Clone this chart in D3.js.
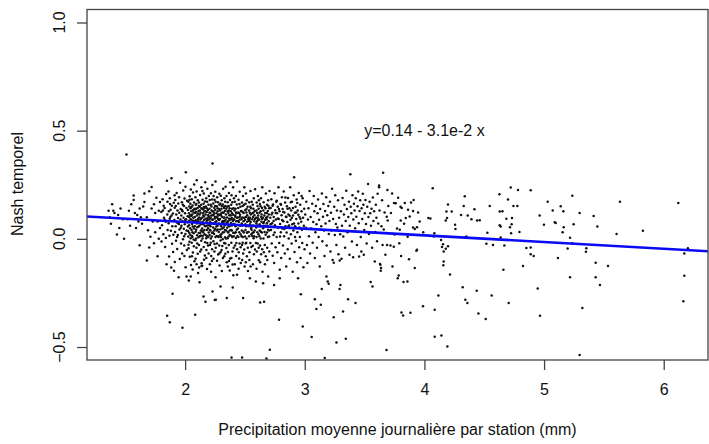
<!DOCTYPE html>
<html lang="fr">
<head>
  <meta charset="UTF-8">
  <title>Nash temporel vs precipitation</title>
  <script src="https://d3js.org/d3.v7.min.js"></script>
  <style>
    body { margin: 0; background: #fff; }
    text { font-family: "Liberation Sans", Arial, sans-serif; fill: #111; }
  </style>
</head>
<body>
  <div id="chart"></div>

  <script>
    // Stations: [precipitation moyenne (mm), Nash temporel]
    const ptsBelow18 = [[1.37,0.10],[1.38,0.07],[1.40,0.13],[1.39,0.16],[1.41,0.12],[1.45,0.05],[1.48,0.09],[1.49,0.00],[1.51,0.39],[1.53,0.13],[1.54,0.06],[1.55,0.16],[1.57,0.18],[1.57,0.20],[1.59,0.05],[1.60,0.11],[1.62,0.14],[1.62,-0.03],[1.63,0.10],[1.65,0.15],[1.66,0.17],[1.68,0.10],[1.68,-0.10],[1.69,0.04],[1.70,0.22],[1.72,0.24],[1.72,0.14],[1.73,0.08],[1.74,0.16],[1.75,0.03],[1.75,0.12],[1.76,0.19],[1.77,0.08],[1.77,-0.08],[1.78,0.13],[1.78,0.00],[1.79,0.05],[1.79,0.17],[1.46,0.14],[1.43,0.02],[1.52,0.09],[1.64,0.07],[1.71,0.01],[1.58,0.12],[1.66,0.21],[1.74,-0.02],[1.61,0.08],[1.44,0.11],[1.36,0.13],[1.70,-0.04]];

    const pts18to20 = [[1.801,0.124],[1.807,0.063],[1.812,0.183],[1.818,0.021],[1.823,0.098],[1.829,0.142],[1.833,-0.038],[1.838,0.079],[1.842,0.207],[1.848,0.268],[1.851,0.113],[1.854,0.041],[1.803,-0.012],[1.821,0.153],[1.845,-0.118],[1.850,-0.356],[1.831,0.088],[1.814,0.131],[1.839,0.004],[1.853,0.171],
      [1.862,0.072],[1.864,0.128],[1.869,0.014],[1.872,0.188],[1.872,-0.385],[1.877,0.101],[1.881,0.037],[1.886,0.280],[1.889,0.153],[1.891,-0.023],[1.895,-0.254],[1.898,0.117],[1.903,0.082],[1.900,-0.061],[1.861,0.219],[1.874,0.161],[1.884,-0.133],[1.893,0.058],[1.905,0.167],[1.866,-0.082],[1.879,0.134],[1.902,0.019],[1.871,0.093],[1.887,0.108],[1.907,-0.148],
      [1.911,0.087],[1.913,0.144],[1.916,0.032],[1.918,0.179],[1.921,0.058],[1.924,-0.009],[1.926,0.112],[1.929,0.212],[1.931,0.076],[1.934,-0.047],[1.936,0.131],[1.939,0.018],[1.941,0.096],[1.943,0.163],[1.946,-0.178],[1.948,0.069],[1.951,0.121],[1.953,0.043],[1.955,-0.093],[1.958,0.259],[1.914,-0.107],[1.922,0.152],[1.933,0.009],[1.944,0.071],[1.949,0.192],[1.961,0.089],[1.963,0.138],[1.966,-0.021],[1.964,0.051],[1.912,0.201],
      [1.968,0.108],[1.971,0.027],[1.973,0.169],[1.975,-0.068],[1.978,0.082],[1.979,0.127],[1.978,-0.411],[1.982,-0.002],[1.984,0.223],[1.987,0.098],[1.989,0.047],[1.991,0.152],[1.993,-0.031],[1.995,0.187],[1.997,0.068],[1.999,0.118],[2.002,0.022],[2.004,-0.131],[2.006,0.308],[2.008,0.091],[2.011,0.143],[2.012,0.038],[2.014,-0.052],[2.016,0.176],[1.969,0.061],[1.981,0.158],[1.992,0.012],[2.001,0.087],[2.012,-0.174],[2.003,0.241],[1.974,0.133],[1.994,-0.079]];

    const pts20to24 = [[2.021,0.104],[2.023,0.057],[2.024,0.133],[2.026,0.011],[2.027,0.171],[2.029,-0.043],[2.031,0.082],[2.032,0.118],[2.034,0.028],[2.035,0.149],[2.036,-0.014],[2.038,0.197],[2.039,-0.083],[2.041,0.109],[2.042,0.049],[2.044,0.092],[2.045,0.141],[2.046,0.003],[2.048,0.228],[2.049,-0.121],[2.022,0.077],[2.033,0.063],[2.043,0.019],[2.031,-0.193],[2.037,0.181],[2.047,-0.174],[2.025,0.036],[2.034,0.101],[2.044,0.162],[2.028,-0.027],
      [2.051,0.088],[2.052,0.127],[2.054,0.041],[2.055,-0.018],[2.056,0.183],[2.058,0.069],[2.059,0.113],[2.061,0.008],[2.062,0.154],[2.064,0.057],[2.065,-0.063],[2.066,0.214],[2.068,0.097],[2.069,0.079],[2.071,0.122],[2.072,0.026],[2.073,-0.034],[2.075,0.168],[2.076,0.251],[2.078,-0.104],[2.053,0.106],[2.063,-0.142],[2.074,0.048],[2.057,0.013],[2.067,0.084],[2.077,0.139],[2.084,-0.351],[2.061,0.031],[2.054,0.147],[2.071,-0.003],[2.066,0.132],[2.057,-0.081],
      [2.081,0.101],[2.082,0.058],[2.084,0.137],[2.085,-0.007],[2.086,0.192],[2.088,0.033],[2.089,0.086],[2.091,0.124],[2.092,0.042],[2.094,0.161],[2.095,-0.041],[2.096,0.219],[2.098,0.071],[2.099,0.108],[2.101,0.017],[2.102,0.078],[2.104,0.143],[2.105,-0.069],[2.106,0.178],[2.108,-0.158],[2.083,0.119],[2.093,0.002],[2.103,0.053],[2.087,-0.092],[2.097,0.271],[2.107,0.117],[2.082,0.081],[2.092,0.139],[2.101,-0.022],[2.089,0.157],[2.096,-0.118],[2.106,0.092],
      [2.111,0.083],[2.112,0.129],[2.114,0.027],[2.115,0.168],[2.116,-0.029],[2.118,0.099],[2.119,0.061],[2.121,0.112],[2.122,0.148],[2.124,0.012],[2.125,0.203],[2.126,-0.058],[2.128,0.089],[2.129,0.121],[2.131,0.068],[2.132,0.039],[2.134,0.158],[2.135,-0.009],[2.136,0.238],[2.138,-0.113],[2.113,0.057],[2.123,0.131],[2.133,0.094],[2.117,-0.132],[2.127,0.028],[2.137,0.141],[2.115,0.152],[2.121,-0.201],[2.131,0.016],[2.112,0.007],[2.126,0.076],[2.135,-0.049],[2.154,-0.267],[2.170,-0.291],
      [2.141,0.097],[2.142,0.048],[2.144,0.138],[2.145,0.002],[2.146,0.181],[2.148,0.079],[2.149,0.118],[2.151,0.031],[2.152,0.067],[2.154,0.162],[2.155,-0.038],[2.156,0.209],[2.158,0.103],[2.159,0.088],[2.161,0.126],[2.162,0.021],[2.164,0.059],[2.165,-0.077],[2.166,0.173],[2.168,0.262],[2.143,-0.124],[2.153,0.108],[2.163,0.144],[2.147,0.013],[2.157,0.147],[2.167,-0.016],[2.144,0.036],[2.152,0.136],[2.158,-0.097],[2.145,0.221],[2.161,0.041],[2.137,-0.125],
      [2.171,0.112],[2.172,0.058],[2.174,0.149],[2.175,0.017],[2.176,0.188],[2.178,-0.052],[2.179,0.082],[2.181,0.124],[2.182,0.041],[2.184,0.171],[2.185,-0.019],[2.186,0.231],[2.188,0.098],[2.189,0.087],[2.191,0.133],[2.192,0.049],[2.194,0.008],[2.195,0.157],[2.196,-0.068],[2.198,0.198],[2.173,0.093],[2.183,-0.139],[2.193,0.109],[2.177,-0.088],[2.187,0.062],[2.197,0.029],[2.171,0.128],[2.181,0.141],[2.191,-0.031],[2.176,0.003],[2.186,0.012],[2.196,0.072],
      [2.201,0.102],[2.202,0.063],[2.204,0.139],[2.205,0.018],[2.206,0.179],[2.208,-0.028],[2.209,0.079],[2.211,0.119],[2.212,0.038],[2.214,0.158],[2.215,0.001],[2.216,0.211],[2.218,-0.079],[2.219,0.108],[2.221,0.071],[2.222,0.131],[2.224,0.028],[2.225,-0.048],[2.226,0.182],[2.228,0.249],[2.203,0.091],[2.213,0.098],[2.223,0.011],[2.207,-0.118],[2.217,-0.152],[2.227,0.089],[2.229,0.348],[2.229,-0.243],[2.203,0.121],[2.212,0.058],[2.221,0.149],[2.206,0.041],[2.214,-0.018],[2.224,-0.103],[2.248,-0.283],
      [2.231,0.088],[2.232,0.128],[2.234,0.052],[2.235,0.163],[2.236,-0.011],[2.238,0.198],[2.239,0.113],[2.241,0.069],[2.242,0.022],[2.244,0.142],[2.245,-0.059],[2.246,0.181],[2.248,0.094],[2.249,0.101],[2.251,0.047],[2.252,0.133],[2.254,0.009],[2.255,0.172],[2.256,-0.041],[2.254,-0.177],[2.233,0.109],[2.243,0.038],[2.253,0.078],[2.237,-0.092],[2.254,0.265],[2.257,-0.281],[2.232,0.029],[2.241,0.121],[2.251,0.152],[2.236,0.072],[2.246,-0.024],[2.252,0.218],
      [2.261,0.081],[2.262,0.118],[2.264,0.039],[2.265,0.151],[2.266,-0.021],[2.268,0.192],[2.269,0.098],[2.271,0.061],[2.272,0.128],[2.274,0.012],[2.275,0.169],[2.276,-0.072],[2.278,0.091],[2.279,0.108],[2.281,0.032],[2.282,0.071],[2.284,0.138],[2.285,-0.031],[2.286,0.208],[2.288,-0.123],[2.263,0.102],[2.273,0.043],[2.283,0.087],[2.267,-0.101],[2.296,-0.220],[2.287,0.158],[2.261,0.057],[2.271,0.141],[2.281,0.008],[2.264,0.013],[2.277,0.113],[2.286,-0.068],
      [2.291,0.092],[2.292,0.131],[2.294,0.043],[2.295,0.162],[2.296,-0.008],[2.298,0.199],[2.299,0.109],[2.301,0.058],[2.302,0.021],[2.304,0.139],[2.305,-0.052],[2.306,0.178],[2.308,0.079],[2.309,0.101],[2.311,0.048],[2.312,0.122],[2.314,-0.002],[2.315,0.159],[2.316,-0.088],[2.318,0.232],[2.293,0.068],[2.303,0.118],[2.313,0.029],[2.297,-0.061],[2.307,-0.149],[2.317,0.083],[2.291,0.112],[2.301,0.009],[2.311,-0.033],[2.294,0.018],[2.306,0.152],
      [2.321,0.078],[2.322,0.121],[2.324,0.031],[2.325,0.148],[2.326,-0.019],[2.328,0.188],[2.329,0.099],[2.331,0.062],[2.332,0.129],[2.334,0.007],[2.335,0.171],[2.336,-0.069],[2.338,0.241],[2.339,0.088],[2.341,0.112],[2.342,0.039],[2.344,0.139],[2.345,-0.042],[2.346,0.198],[2.348,-0.108],[2.323,0.098],[2.333,0.041],[2.343,0.071],[2.327,-0.081],[2.348,-0.274],[2.337,0.152],[2.322,0.052],[2.331,0.082],[2.341,0.001],[2.326,0.142],[2.336,-0.022],
      [2.351,0.099],[2.352,0.051],[2.354,0.128],[2.355,0.003],[2.356,0.169],[2.358,-0.061],[2.359,0.081],[2.361,0.119],[2.362,0.029],[2.364,0.152],[2.365,-0.028],[2.366,0.212],[2.368,0.093],[2.369,0.109],[2.371,0.058],[2.372,0.141],[2.373,0.018],[2.375,0.179],[2.373,-0.146],[2.376,-0.091],[2.353,0.077],[2.363,0.011],[2.373,0.088],[2.357,-0.128],[2.378,0.262],[2.367,-0.102],[2.352,0.148],[2.362,0.062],[2.372,0.039],[2.356,0.032],[2.366,0.131],[2.388,-0.548],
      [2.381,0.091],[2.382,0.128],[2.384,0.041],[2.385,0.158],[2.386,-0.018],[2.388,0.202],[2.389,0.098],[2.391,0.062],[2.392,0.118],[2.394,0.009],[2.395,0.169],[2.396,-0.058],[2.398,0.082],[2.398,-0.225],[2.401,0.111],[2.402,0.028],[2.404,0.069],[2.405,0.141],[2.406,-0.041],[2.408,0.188],[2.383,0.073],[2.393,0.139],[2.403,0.092],[2.387,-0.088],[2.397,-0.119],[2.407,0.012],[2.381,0.109],[2.391,0.038],[2.401,0.238],[2.386,0.014],[2.403,-0.168]];

    const pts24to27 = [[2.411,0.088],[2.413,0.131],[2.414,0.027],[2.416,0.171],[2.417,-0.031],[2.419,0.102],[2.421,0.058],[2.422,0.139],[2.424,0.004],[2.425,0.198],[2.427,-0.079],[2.428,0.081],[2.429,0.118],[2.431,0.042],[2.432,0.159],[2.434,-0.048],[2.434,0.265],[2.434,-0.166],[2.412,0.069],[2.423,0.031],[2.433,0.098],[2.415,-0.118],[2.426,0.122],[2.436,0.013],[2.418,0.108],[2.428,-0.019],
      [2.441,0.099],[2.442,0.048],[2.444,0.142],[2.445,0.009],[2.446,0.181],[2.448,-0.062],[2.449,0.078],[2.451,0.119],[2.452,0.031],[2.454,0.161],[2.455,-0.021],[2.456,0.218],[2.458,0.089],[2.459,0.111],[2.461,0.061],[2.462,0.148],[2.464,-0.039],[2.465,-0.112],[2.443,0.082],[2.453,0.063],[2.463,0.021],[2.447,-0.138],[2.457,0.102],[2.467,0.129],[2.451,-0.091],[2.444,0.122],[2.476,-0.548],
      [2.471,0.091],[2.472,0.128],[2.474,0.039],[2.475,0.168],[2.476,-0.028],[2.478,0.099],[2.479,0.062],[2.481,0.152],[2.482,0.008],[2.484,0.198],[2.485,-0.068],[2.485,-0.274],[2.488,0.081],[2.489,0.119],[2.491,0.029],[2.492,0.158],[2.494,-0.049],[2.495,0.239],[2.473,0.071],[2.483,0.123],[2.493,0.098],[2.477,-0.098],[2.487,0.033],[2.497,-0.128],[2.471,0.012],[2.481,-0.018],
      [2.501,0.088],[2.502,0.132],[2.504,0.041],[2.505,0.162],[2.506,-0.021],[2.508,0.209],[2.509,0.101],[2.511,0.058],[2.512,0.122],[2.514,0.002],[2.515,0.178],[2.516,-0.081],[2.518,0.079],[2.519,0.109],[2.521,0.031],[2.522,0.148],[2.524,-0.041],[2.525,-0.149],[2.503,0.068],[2.513,0.138],[2.523,0.061],[2.507,-0.108],[2.517,0.028],[2.527,0.092],[2.501,0.011],[2.511,-0.018],
      [2.531,0.099],[2.532,0.058],[2.534,0.131],[2.535,0.012],[2.536,0.169],[2.538,-0.062],[2.539,0.088],[2.541,0.121],[2.541,-0.182],[2.544,0.148],[2.545,-0.019],[2.546,0.221],[2.548,0.078],[2.549,0.112],[2.551,0.049],[2.552,0.141],[2.554,-0.038],[2.555,0.042],[2.533,0.083],[2.543,0.068],[2.553,0.021],[2.537,-0.098],[2.547,-0.128],[2.557,0.171],[2.531,0.032],[2.542,0.098],
      [2.561,0.091],[2.562,0.118],[2.564,0.028],[2.565,0.158],[2.566,-0.032],[2.568,0.101],[2.569,0.062],[2.571,0.139],[2.572,0.003],[2.574,0.188],[2.575,-0.071],[2.578,0.081],[2.579,0.109],[2.581,0.039],[2.582,0.129],[2.584,-0.049],[2.585,0.229],[2.563,0.058],[2.573,0.031],[2.583,0.092],[2.567,-0.118],[2.591,-0.197],[2.577,0.012],[2.561,0.013],[2.571,0.122],
      [2.593,0.098],[2.594,0.052],[2.596,0.131],[2.597,0.009],[2.598,0.168],[2.599,-0.058],[2.601,0.081],[2.602,0.119],[2.604,0.031],[2.605,0.152],[2.606,-0.022],[2.608,0.198],[2.609,0.088],[2.611,0.108],[2.612,0.059],[2.614,0.139],[2.615,-0.041],[2.616,-0.099],[2.595,0.072],[2.603,0.062],[2.613,0.021],[2.597,-0.138],[2.607,0.098],[2.617,0.178],[2.592,-0.019],
      [2.621,0.089],[2.622,0.121],[2.624,0.038],[2.625,0.161],[2.626,-0.031],[2.627,-0.294],[2.629,0.058],[2.631,0.128],[2.632,0.002],[2.634,0.188],[2.635,-0.071],[2.636,0.101],[2.638,0.079],[2.639,0.112],[2.641,0.029],[2.642,0.142],[2.644,-0.048],[2.645,0.238],[2.623,0.068],[2.633,0.033],[2.643,0.092],[2.627,-0.108],[2.647,-0.152],[2.621,0.012],[2.631,0.151],
      [2.651,0.098],[2.652,0.049],[2.654,0.131],[2.655,0.001],[2.656,0.169],[2.658,-0.062],[2.659,0.078],[2.660,-0.291],[2.662,0.108],[2.664,0.032],[2.665,0.148],[2.666,-0.029],[2.668,0.088],[2.669,0.119],[2.671,0.061],[2.672,0.141],[2.674,-0.081],[2.675,0.209],[2.653,0.072],[2.663,0.058],[2.673,0.019],[2.652,-0.205],[2.667,-0.118],[2.677,0.098],[2.680,-0.553],
      [2.681,0.091],[2.682,0.119],[2.684,0.029],[2.685,0.158],[2.686,-0.041],[2.688,0.102],[2.689,0.061],[2.691,0.129],[2.692,0.009],[2.694,0.178],[2.694,-0.174],[2.698,0.081],[2.699,0.112],[2.701,0.039],[2.702,0.141],[2.704,-0.058],[2.708,-0.513],[2.683,0.072],[2.693,0.042],[2.703,0.011],[2.687,-0.098],[2.697,0.152],[2.705,0.221]];

    const pts27to30 = [[2.712,0.098],[2.715,0.142],[2.718,0.041],[2.721,0.183],[2.724,-0.021],[2.727,0.072],[2.729,0.121],[2.732,-0.078],[2.735,0.159],[2.738,0.018],[2.741,0.101],[2.744,-0.112],[2.744,-0.213],[2.747,0.211],[2.750,0.063],[2.753,0.132],[2.756,-0.039],[2.759,0.089],[2.762,0.172],[2.765,0.008],[2.768,0.118],[2.771,-0.062],[2.774,0.148],[2.777,0.051],[2.780,0.238],[2.783,0.092],[2.785,-0.374],[2.786,-0.019],[2.789,0.128],[2.791,-0.182],[2.791,-0.143],[2.794,0.069],[2.797,0.161],[2.800,0.031],[2.803,-0.088],[2.806,0.109],[2.809,0.192],[2.812,0.048],[2.815,0.138],[2.818,-0.031],[2.821,0.081],[2.824,0.219],[2.827,0.012],[2.830,0.122],[2.833,-0.068],[2.836,0.168],[2.839,0.058],[2.842,0.102],[2.845,-0.128],[2.848,0.029],[2.851,0.151],[2.854,0.078],[2.857,-0.048],[2.860,0.189],[2.863,0.112],[2.866,0.002],[2.869,0.062],[2.872,0.141],[2.875,-0.092],[2.878,0.238],[2.881,0.088],[2.884,0.021],[2.887,0.131],[2.890,-0.022],[2.893,0.172],[2.896,0.068],[2.899,-0.152],[2.902,0.108],[2.905,0.039],[2.908,0.201],[2.911,0.285],[2.914,-0.061],[2.917,0.121],[2.920,0.058],[2.923,0.148],[2.926,-0.009],[2.929,0.092],[2.932,0.182],[2.935,-0.108],[2.938,0.031],[2.941,0.131],[2.944,-0.182],[2.947,0.071],[2.950,0.212],[2.953,-0.039],[2.956,0.101],[2.959,0.009],[2.962,0.158],[2.965,-0.089],[2.967,-0.256],[2.970,0.079],[2.973,0.128],[2.976,0.042],[2.979,-0.019],[2.982,0.188],[2.983,-0.405],[2.986,0.098],[2.989,-0.131],[2.992,0.061],[2.995,0.139],[2.998,-0.048],
      [2.714,0.067],[2.723,0.112],[2.731,0.153],[2.739,0.083],[2.748,0.029],[2.757,0.119],[2.766,0.176],[2.775,0.094],[2.784,0.138],[2.793,0.011],[2.802,0.158],[2.811,0.087],[2.82,0.124],[2.829,0.046],[2.838,0.191],[2.847,0.101],[2.856,0.139],[2.865,0.059],[2.874,0.107],[2.883,0.169],[2.892,0.098],[2.901,0.142],[2.91,0.071],[2.919,0.009],[2.928,0.122],[2.937,0.166],[2.946,0.111],[2.955,0.052],[2.964,0.093],[2.973,0.198]];

    const pts30to33 = [[3.004,0.112],[3.009,0.051],[3.013,0.172],[3.018,-0.029],[3.022,-0.112],[3.026,0.089],[3.031,0.141],[3.035,0.012],[3.040,0.221],[3.044,-0.068],[3.049,0.101],[3.053,0.048],[3.058,-0.454],[3.062,0.162],[3.066,-0.018],[3.071,0.078],[3.075,0.198],[3.080,0.128],[3.084,-0.089],[3.084,-0.279],[3.089,0.031],[3.093,0.152],[3.097,-0.324],[3.098,0.068],[3.102,-0.041],[3.107,0.118],[3.111,0.182],[3.116,0.009],[3.120,0.088],[3.125,-0.128],[3.129,0.138],[3.134,-0.305],[3.138,0.058],[3.142,-0.232],[3.143,0.209],[3.147,-0.011],[3.152,0.102],[3.156,0.161],[3.161,0.039],[3.165,-0.079],[3.167,-0.551],[3.170,0.129],[3.174,0.071],[3.179,0.192],[3.181,-0.174],[3.183,-0.031],[3.188,0.109],[3.192,-0.197],[3.197,0.152],[3.200,-0.208],[3.201,0.022],[3.206,0.082],[3.210,0.171],[3.215,-0.058],[3.219,0.121],[3.224,0.038],[3.228,0.231],[3.233,-0.098],[3.237,0.092],[3.242,-0.110],[3.242,-0.362],[3.246,0.148],[3.251,0.018],[3.255,0.201],[3.260,0.069],[3.264,-0.028],[3.265,-0.479],[3.269,0.131],[3.273,0.052],[3.278,0.178],[3.282,-0.071],[3.287,0.098],[3.291,-0.232],[3.292,-0.100],[3.296,0.021],[3.298,-0.213]];

    const pts33to37 = [[3.302,0.128],[3.307,-0.092],[3.311,0.061],[3.316,0.189],[3.320,-0.336],[3.322,0.011],[3.327,0.112],[3.332,0.158],[3.337,-0.041],[3.342,0.082],[3.343,-0.462],[3.347,0.222],[3.352,0.138],[3.357,0.031],[3.362,-0.279],[3.364,0.101],[3.369,0.172],[3.374,-0.074],[3.376,0.061],[3.381,0.298],[3.384,0.148],[3.389,0.118],[3.394,-0.012],[3.399,0.201],[3.404,-0.085],[3.406,0.089],[3.411,0.162],[3.416,0.131],[3.421,0.049],[3.424,-0.297],[3.426,0.188],[3.431,0.102],[3.436,-0.029],[3.441,0.151],[3.446,0.219],[3.451,0.072],[3.454,-0.082],[3.458,0.129],[3.463,0.178],[3.468,0.009],[3.473,-0.059],[3.475,0.141],[3.480,0.092],[3.485,0.208],[3.490,0.158],[3.493,-0.074],[3.497,0.041],[3.502,0.118],[3.507,0.179],[3.512,0.069],[3.517,-0.021],[3.522,0.148],[3.529,0.253],[3.532,0.101],[3.537,0.022],[3.542,0.171],[3.547,0.118],[3.551,-0.200],[3.553,0.061],[3.558,0.139],[3.563,-0.041],[3.566,-0.220],[3.569,0.191],[3.574,0.082],[3.579,0.128],[3.585,-0.105],[3.589,0.032],[3.594,0.158],[3.599,0.098],[3.604,-0.011],[3.609,0.208],[3.614,0.071],[3.621,0.246],[3.621,0.239],[3.625,0.131],[3.629,-0.116],[3.632,-0.120],[3.635,-0.148],[3.637,-0.135],[3.641,0.058],[3.646,0.178],[3.650,-0.028],[3.655,0.306],[3.660,0.043],[3.667,0.122],[3.674,-0.074],[3.683,-0.514],[3.685,0.102],[3.688,-0.028],[3.691,0.226],[3.693,0.085],[3.698,0.152]];

    const pts37to46 = [[3.716,-0.031],[3.72,0.12],[3.73,0.21],[3.733,-0.128],[3.744,-0.036],[3.746,0.166],[3.75,0.02],[3.760,0.165],[3.771,0.048],[3.777,-0.182],[3.78,0.19],[3.785,-0.170],[3.79,-0.02],[3.794,0.042],[3.800,0.148],[3.802,0.085],[3.805,-0.079],[3.808,-0.341],[3.810,0.142],[3.822,-0.354],[3.825,-0.200],[3.83,0.07],[3.836,0.166],[3.844,0.096],[3.858,-0.197],[3.86,0.01],[3.863,0.134],[3.871,-0.094],[3.877,0.103],[3.883,-0.342],[3.888,0.168],[3.905,0.129],[3.905,0.052],[3.91,0.18],[3.919,0.045],[3.919,-0.135],[3.933,-0.055],[3.938,0.054],[3.938,-0.051],[3.947,0.122],[3.96,0.08],[3.988,-0.311],[3.99,0.03],[4.033,0.096],[4.050,0.094],[4.069,0.234],[4.078,0.011],[4.083,0.026],[4.086,-0.328],[4.086,-0.453],[4.117,-0.262],[4.139,-0.005],[4.142,-0.447],[4.147,-0.038],[4.156,-0.025],[4.158,-0.122],[4.161,-0.105],[4.161,-0.059],[4.178,0.085],[4.178,-0.046],[4.184,0.126],[4.189,0.096],[4.192,-0.498],[4.197,0.159],[4.197,-0.034],[4.214,-0.165],[4.228,0.126],[4.256,0.065],[4.259,0.046],[4.306,0.110],[4.320,-0.224],[4.328,0.152],[4.337,0.197],[4.337,0.006],[4.342,-0.282],[4.351,0.011],[4.359,-0.297],[4.362,0.108],[4.393,0.091],[4.418,0.137],[4.437,-0.240],[4.440,0.085],[4.451,-0.345],[4.462,0.086],[4.512,-0.371],[4.518,-0.023],[4.526,0.028],[4.546,0.152],[4.562,-0.262],[4.573,-0.028]];

    const pts46to62 = [[4.627,0.206],[4.629,0.126],[4.629,0.063],[4.637,0.057],[4.637,0.006],[4.652,0.128],[4.660,-0.143],[4.668,-0.031],[4.685,0.093],[4.699,0.182],[4.704,-0.296],[4.715,0.054],[4.721,0.237],[4.724,0.026],[4.729,0.068],[4.732,0.096],[4.744,0.152],[4.777,0.152],[4.782,0.226],[4.794,0.032],[4.824,-0.125],[4.852,-0.042],[4.888,0.225],[4.888,-0.040],[4.888,-0.071],[4.913,-0.079],[4.947,-0.230],[4.963,0.108],[4.966,-0.356],[4.999,0.065],[5.030,0.172],[5.072,0.131],[5.089,0.077],[5.097,0.073],[5.116,-0.088],[5.139,0.151],[5.155,0.031],[5.161,0.128],[5.164,0.054],[5.197,-0.045],[5.217,0.005],[5.217,-0.177],[5.236,0.199],[5.236,-0.020],[5.247,0.068],[5.297,0.120],[5.297,-0.537],[5.320,-0.320],[5.350,-0.060],[5.353,-0.043],[5.414,0.106],[5.431,-0.111],[5.431,-0.177],[5.445,0.057],[5.467,-0.213],[5.534,-0.125],[5.606,0.022],[5.634,0.171],[5.826,0.037],[6.122,0.166],[6.164,-0.288],[6.172,-0.068],[6.172,-0.171],[6.202,-0.043]];

    // linear fit shown on the plot
    const fitIntercept = 0.14;
    const fitSlope = -0.031;
    const fitLabel = "y=0.14 - 3.1e-2 x";

    const xTicks = [2, 3, 4, 5, 6];
    const yTicks = [-0.5, 0.0, 0.5, 1.0];
    const xTitle = "Precipitation moyenne journalière par station (mm)";
    const yTitle = "Nash temporel";

    const allPoints = [].concat(ptsBelow18, pts18to20, pts20to24, pts24to27,
      pts27to30, pts30to33, pts33to37, pts37to46, pts46to62);

    // plot region (R style, 4% padding around the data)
    const W = 709, H = 444;
    const plotLeft = 87, plotRight = 708, plotTop = 9.5, plotBottom = 360;
    const fontSize = "16px";

    const svg = d3.select("#chart").append("svg")
      .attr("width", W)
      .attr("height", H);

    const x = d3.scaleLinear().domain([1.18, 6.37]).range([plotLeft, plotRight]);
    const y = d3.scaleLinear().domain([-0.56, 1.06]).range([plotBottom, plotTop]);

    svg.append("clipPath").attr("id", "plot-clip")
      .append("rect")
      .attr("x", plotLeft).attr("y", plotTop)
      .attr("width", plotRight - plotLeft).attr("height", plotBottom - plotTop);

    // points
    svg.append("g")
      .attr("clip-path", "url(#plot-clip)")
      .selectAll("circle")
      .data(allPoints)
      .enter().append("circle")
        .attr("cx", d => x(d[0]))
        .attr("cy", d => y(d[1]))
        .attr("r", 1.25)
        .attr("fill", "#111");

    // regression line
    const xd = x.domain();
    svg.append("line")
      .attr("clip-path", "url(#plot-clip)")
      .attr("x1", x(xd[0])).attr("y1", y(fitIntercept + fitSlope * xd[0]))
      .attr("x2", x(xd[1])).attr("y2", y(fitIntercept + fitSlope * xd[1]))
      .attr("stroke", "#0a0af5")
      .attr("stroke-width", 2.6);

    // box
    svg.append("rect")
      .attr("x", plotLeft).attr("y", plotTop)
      .attr("width", plotRight - plotLeft).attr("height", plotBottom - plotTop)
      .attr("fill", "none")
      .attr("stroke", "#444")
      .attr("stroke-width", 1.3);

    // x axis
    const xAxis = svg.append("g")
      .attr("transform", "translate(0," + plotBottom + ")")
      .call(d3.axisBottom(x).tickValues(xTicks).tickSize(10).tickPadding(25)
        .tickFormat(d3.format("d")));
    xAxis.select(".domain").remove();
    xAxis.selectAll(".tick line").attr("stroke", "#444").attr("stroke-width", 1.3);
    xAxis.selectAll(".tick text")
      .attr("dy", 0)
      .style("font-size", fontSize)
      .style("font-family", "'Liberation Sans', Arial, sans-serif")
      .attr("fill", "#111");

    // y axis (labels rotated, like R default)
    const yAxis = svg.append("g")
      .attr("transform", "translate(" + plotLeft + ",0)")
      .call(d3.axisLeft(y).tickValues(yTicks).tickSize(10).tickFormat(""));
    yAxis.select(".domain").remove();
    yAxis.selectAll(".tick line").attr("stroke", "#444").attr("stroke-width", 1.3);

    svg.append("g").selectAll("text")
      .data(yTicks)
      .enter().append("text")
        .attr("transform", d => "translate(65," + y(d) + ") rotate(-90)")
        .attr("text-anchor", "middle")
        .style("font-size", fontSize)
        .text(d3.format(".1f"));

    // equation
    svg.append("text")
      .attr("x", x(4.0))
      .attr("y", y(0.475))
      .attr("text-anchor", "middle")
      .style("font-size", fontSize)
      .text(fitLabel);

    // axis titles
    svg.append("text")
      .attr("x", (plotLeft + plotRight) / 2)
      .attr("y", 435)
      .attr("text-anchor", "middle")
      .style("font-size", fontSize)
      .text(xTitle);

    svg.append("text")
      .attr("transform", "translate(23," + 184 + ") rotate(-90)")
      .attr("text-anchor", "middle")
      .style("font-size", fontSize)
      .text(yTitle);
  </script>
</body>
</html>
